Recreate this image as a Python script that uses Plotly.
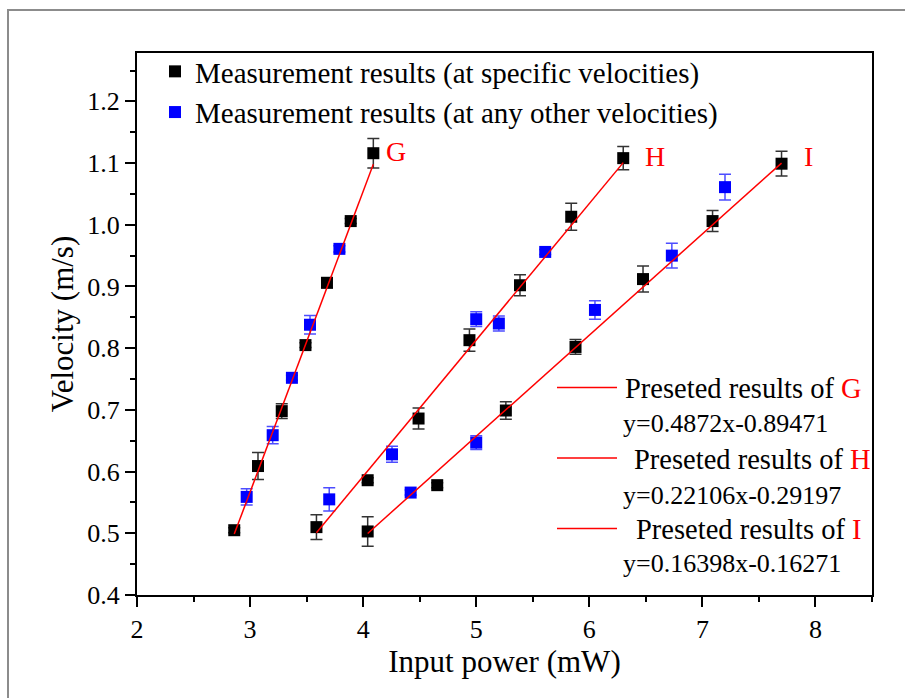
import plotly.graph_objects as go

# ---------------- data ----------------
G_x = [2.86, 2.97, 3.07, 3.20, 3.28, 3.37, 3.49, 3.53, 3.68, 3.79, 3.89, 4.09]
G_y = [0.505, 0.559, 0.609, 0.659, 0.698, 0.752, 0.805, 0.838, 0.906, 0.961, 1.006, 1.116]
G_err = [0.004, 0.013, 0.022, 0.014, 0.012, 0.004, 0.004, 0.015, 0.008, 0.005, 0.004, 0.024]
G_type = ['S', 'O', 'S', 'O', 'S', 'O', 'S', 'O', 'S', 'O', 'S', 'S']

H_x = [3.587, 3.70, 4.04, 4.255, 4.49, 4.94, 5.00, 5.20, 5.387, 5.61, 5.84, 6.30]
H_y = [0.510, 0.555, 0.586, 0.628, 0.686, 0.813, 0.847, 0.840, 0.902, 0.956, 1.013, 1.108]
H_err = [0.020, 0.019, 0.004, 0.013, 0.017, 0.018, 0.012, 0.012, 0.017, 0.004, 0.022, 0.019]
H_type = ['S', 'O', 'S', 'O', 'S', 'S', 'O', 'O', 'S', 'O', 'S', 'S']

I_x = [4.04, 4.42, 4.655, 5.00, 5.262, 5.878, 6.05, 6.475, 6.73, 7.09, 7.20, 7.70]
I_y = [0.503, 0.566, 0.578, 0.647, 0.699, 0.802, 0.862, 0.912, 0.950, 1.006, 1.061, 1.099]
I_err = [0.024, 0.004, 0.004, 0.011, 0.014, 0.012, 0.015, 0.021, 0.020, 0.017, 0.021, 0.020]
I_type = ['S', 'O', 'S', 'O', 'S', 'S', 'O', 'S', 'O', 'S', 'O', 'S']

series_names = ['G', 'H', 'I']
fit_slopes = [0.4872, 0.22106, 0.16398]
fit_intercepts = [-0.89471, -0.29197, -0.16271]
fit_labels = ['y=0.4872x-0.89471', 'y=0.22106x-0.29197', 'y=0.16398x-0.16271']

legend_specific = 'Measurement results (at specific velocities)'
legend_other = 'Measurement results (at any other velocities)'

x_tick_vals = [2, 3, 4, 5, 6, 7, 8]
y_tick_vals = [0.4, 0.5, 0.6, 0.7, 0.8, 0.9, 1.0, 1.1, 1.2]

# ---------------- layout geometry ----------------
W, H = 905, 698
ML, MR, MT, MB = 137, 33, 53, 103
PW, PH = W - ML - MR, H - MT - MB
FONT = 'Liberation Serif, Times New Roman, serif'


def px2x(p):
    return (p - ML) / PW


def py2y(p):
    return (H - MB - p) / PH


all_x = [G_x, H_x, I_x]
all_y = [G_y, H_y, I_y]
all_e = [G_err, H_err, I_err]
all_t = [G_type, H_type, I_type]


def collect(kind):
    xs, ys, es = [], [], []
    for X, Y, E, T in zip(all_x, all_y, all_e, all_t):
        for x, y, e, t in zip(X, Y, E, T):
            if t == kind:
                xs.append(x)
                ys.append(y)
                es.append(e)
    return xs, ys, es


fig = go.Figure()

bx, by, be = collect('S')
fig.add_trace(go.Scatter(
    x=bx, y=by, mode='markers', name=legend_specific, legendgroup='s',
    marker=dict(symbol='square', size=12, color='#000000', line=dict(width=0)),
    error_y=dict(type='data', array=be, visible=True, color='#333333', thickness=1.5, width=6),
))
ux, uy, ue = collect('O')
fig.add_trace(go.Scatter(
    x=ux, y=uy, mode='markers', name=legend_other, legendgroup='o',
    marker=dict(symbol='square', size=12, color='#0000ff', line=dict(width=0)),
    error_y=dict(type='data', array=ue, visible=True, color='#4d4dff', thickness=1.5, width=6),
))

# fitted (preset) lines
for name, X, k, b in zip(series_names, all_x, fit_slopes, fit_intercepts):
    x0, x1 = min(X), max(X)
    fig.add_trace(go.Scatter(
        x=[x0, x1], y=[k * x0 + b, k * x1 + b], mode='lines', showlegend=False,
        line=dict(color='#ff0000', width=1.5), name='Preseted results of ' + name,
    ))

# series labels G / H / I
label_pos = [(4.29, 1.118), (6.58, 1.110), (7.94, 1.110)]
for name, (lx, ly) in zip(series_names, label_pos):
    fig.add_annotation(x=lx, y=ly, xref='x', yref='y', text=name, showarrow=False,
                       font=dict(family=FONT, size=28, color='#ff0000'))

# bottom-right legend for preset lines
leg_rows = [(387.5, 623, 423), (458, 632, 495), (528.5, 634, 563)]
for name, eq, (ly, tx, ey) in zip(series_names, fit_labels, leg_rows):
    fig.add_shape(type='line', xref='paper', yref='paper',
                  x0=px2x(557), x1=px2x(617), y0=py2y(ly), y1=py2y(ly),
                  line=dict(color='#ff0000', width=1.5))
    fig.add_annotation(x=px2x(tx), y=py2y(ly + 1), xref='paper', yref='paper',
                       xanchor='left', yanchor='middle', showarrow=False,
                       text="Preseted results of <span style='color:#ff0000'>" + name + "</span>",
                       font=dict(family=FONT, size=28.5, color='#000000'))
    fig.add_annotation(x=px2x(621), y=py2y(ey), xref='paper', yref='paper',
                       xanchor='left', yanchor='middle', showarrow=False,
                       text=eq, font=dict(family=FONT, size=26, color='#000000'))

# outer gray frame (left and top edges visible)
fig.add_shape(type='rect', xref='paper', yref='paper',
              x0=px2x(8), x1=px2x(960), y0=py2y(760), y1=py2y(10),
              line=dict(color='#8c8c8c', width=2), fillcolor='rgba(0,0,0,0)', layer='below')

axis_common = dict(
    showline=True, linecolor='#000000', linewidth=2, mirror=True,
    ticks='outside', ticklen=10, tickwidth=1.5, tickcolor='#000000',
    showgrid=False, zeroline=False,
    tickfont=dict(family=FONT, size=26, color='#000000'),
)

fig.update_layout(
    width=W, height=H,
    margin=dict(l=ML, r=MR, t=MT, b=MB, pad=0),
    paper_bgcolor='#ffffff', plot_bgcolor='#ffffff',
    font=dict(family=FONT, color='#000000'),
    xaxis=dict(range=[2, 8.5], tickvals=x_tick_vals, ticktext=[str(v) for v in x_tick_vals],
               minor=dict(ticks='outside', ticklen=5, tickwidth=1.5, dtick=0.5, tick0=2, tickcolor='#000000'),
               title=dict(text='Input power (mW)', font=dict(family=FONT, size=31), standoff=3),
               **axis_common),
    yaxis=dict(range=[0.4, 1.2784], tickvals=y_tick_vals, ticktext=['%.1f' % v for v in y_tick_vals],
               minor=dict(ticks='outside', ticklen=5, tickwidth=1.5, dtick=0.05, tick0=0.4, tickcolor='#000000'),
               title=dict(text='Velocity (m/s)', font=dict(family=FONT, size=31), standoff=4),
               **axis_common),
    showlegend=True,
    legend=dict(x=px2x(155), y=py2y(46), xanchor='left', yanchor='top',
                font=dict(family=FONT, size=29, color='#000000'),
                bgcolor='rgba(0,0,0,0)', borderwidth=0, tracegroupgap=0),
)

fig.write_html('out.html')
